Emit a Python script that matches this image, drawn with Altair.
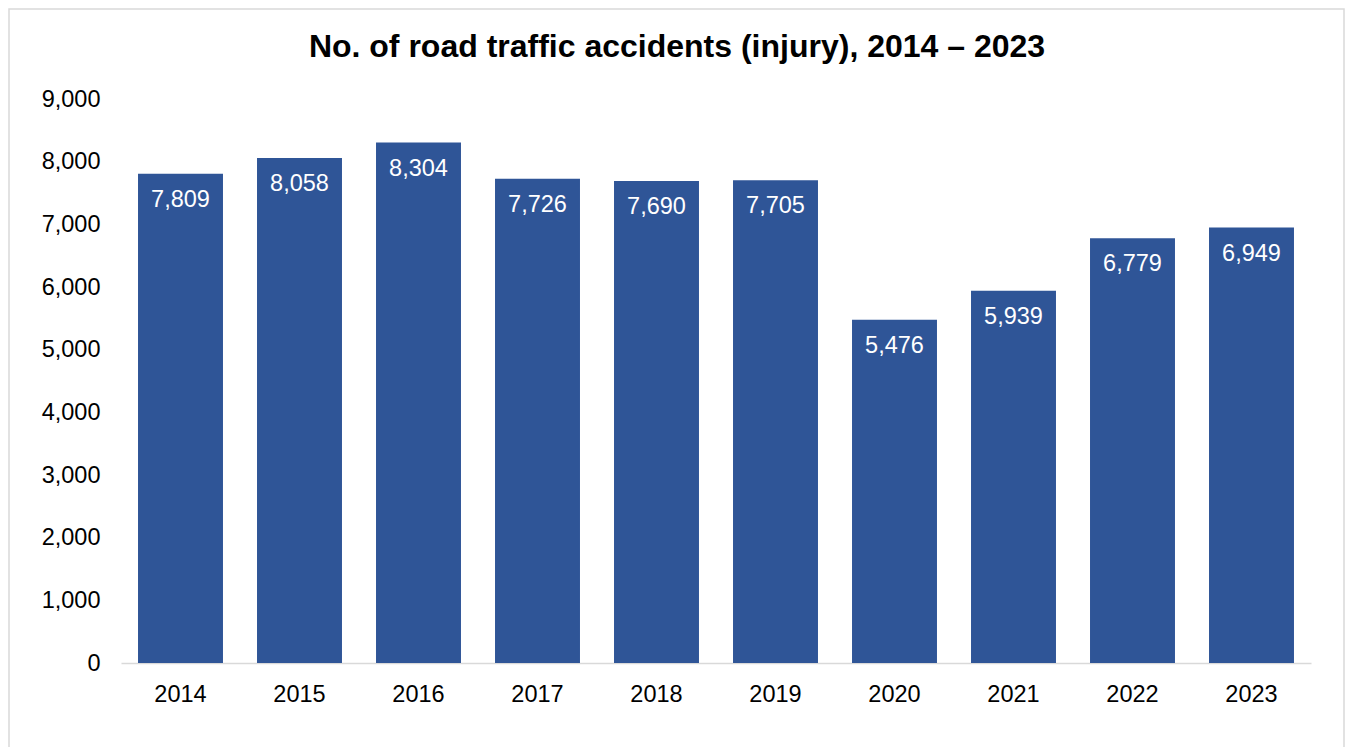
import altair as alt
import pandas as pd

years = ["2014", "2015", "2016", "2017", "2018", "2019", "2020", "2021", "2022", "2023"]
accidents = [7809, 8058, 8304, 7726, 7690, 7705, 5476, 5939, 6779, 6949]
y_ticks = [0, 1000, 2000, 3000, 4000, 5000, 6000, 7000, 8000, 9000]
title_text = "No. of road traffic accidents (injury), 2014 – 2023"

df = pd.DataFrame({"year": years, "accidents": accidents})

FONT = "Liberation Sans"
W, H = 1190, 564

base = alt.Chart(df)

x_enc = alt.X(
    "year:N",
    sort=years,
    scale=alt.Scale(paddingInner=0.286, paddingOuter=0.143),
    axis=alt.Axis(
        title=None, labelAngle=0, ticks=False, domain=True,
        domainColor="#D9D9D9", domainWidth=1.5,
        labelFont=FONT, labelFontSize=23.5, labelColor="#000000",
        labelPadding=19,
    ),
)
y_enc = alt.Y(
    "accidents:Q",
    scale=alt.Scale(domain=[0, 9000], nice=False),
    axis=alt.Axis(
        title=None, values=y_ticks, format=",.0f", grid=False, ticks=False,
        domain=False, labelFont=FONT, labelFontSize=23.5,
        labelColor="#000000", labelPadding=21,
    ),
)

bars = base.mark_bar(color="#2F5597").encode(x=x_enc, y=y_enc)

labels = base.mark_text(
    color="white", font=FONT, fontSize=23.5, baseline="middle", dy=26
).encode(
    x=alt.X("year:N", sort=years),
    y=alt.Y("accidents:Q"),
    text=alt.Text("accidents:Q", format=",.0f"),
)

one = base.transform_filter(alt.datum.year == "2014")

frame = one.mark_rect(fill=None, stroke="#D9D9D9", strokeWidth=1.5).encode(
    x=alt.value(-112), x2=alt.value(1223), y=alt.value(-90), y2=alt.value(720)
)

title = one.mark_text(
    font=FONT, fontSize=32, fontWeight="bold", color="#000000",
    align="center", baseline="alphabetic",
).encode(x=alt.value(556), y=alt.value(-42.3), text=alt.value(title_text))

chart = alt.layer(frame, bars, labels, title).properties(
    width=W,
    height=H,
    background="white",
    autosize=alt.AutoSizeParams(type="none"),
    padding={"left": 113, "top": 91, "right": 35, "bottom": 84},
).configure_view(stroke=None, strokeWidth=0)

chart.save("out.html", embed_options={"renderer": "svg", "actions": False})
